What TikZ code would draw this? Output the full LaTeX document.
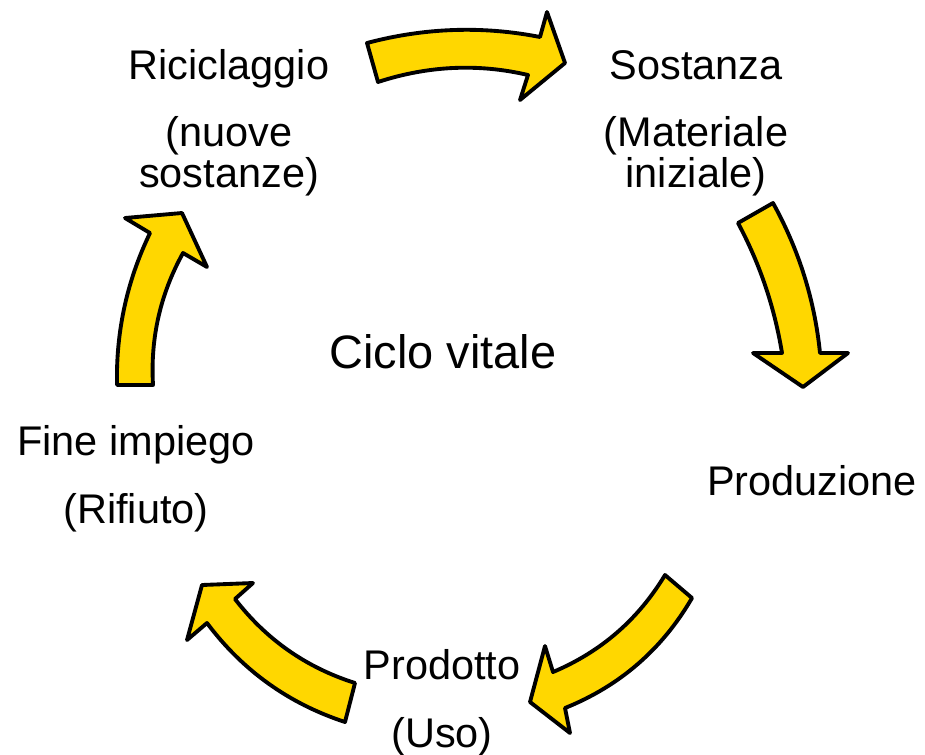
\documentclass[tikz,border=0pt]{standalone}
\usepackage{fontspec}
\setmainfont{Liberation Sans}
\usetikzlibrary{positioning}
\definecolor{cycleyellow}{RGB}{255,215,0}
\tikzstyle{stage} = [inner sep=0pt, align=center, anchor=base, font=\fontsize{23.6pt}{22.8pt}\selectfont]
\tikzstyle{title} = [inner sep=0pt, anchor=base, font=\fontsize{26.7pt}{28pt}\selectfont]
\tikzstyle{blockarrow} = [draw=black, line width=2.2pt, line join=round, fill=cycleyellow]

\begin{document}
\begin{tikzpicture}[x=0.02cm, y=-0.02cm]
    \useasboundingbox (0,0) rectangle (925,754);
    % base anchor sits on the last line
    \node (cycle) [title] at (443,368) {Ciclo vitale};
    \node (recycle) [stage] at (229,187) {Riciclaggio\\[15.4pt](nuove\\sostanze)};
    \node (substance) [stage] at (696,187) {Sostanza\\[15.4pt](Materiale\\iniziale)};
    \node (production) [stage] at (812,495) {Produzione};
    \node (product) [stage] at (442,747) {Prodotto\\[15.4pt](Uso)};
    \node (disposal) [stage] at (136,523) {Fine impiego\\[15.4pt](Rifiuto)};
    % curved block arrows
    \draw [blockarrow] (367,43) .. controls (424.7,27.7) and (482.3,25.7) .. (540,37) -- (547,12) -- (565,63)
        -- (520,100) -- (528,75) .. controls (478,63.3) and (428,65.7) .. (378,82) -- cycle;
    \draw [blockarrow] (773,203) .. controls (798.9,249.8) and (814.6,299.8) .. (820,353) -- (848,353) -- (803,387)
        -- (753,353) -- (782,353) .. controls (774.5,307.3) and (759.9,263.9) .. (738,223) -- cycle;
    \draw [blockarrow] (692,598) .. controls (662.2,649.2) and (619.9,685.9) .. (565,708) -- (570,733) -- (530,702)
        -- (545,646) -- (553,672) .. controls (600.9,651.8) and (638.2,619.5) .. (665,575) -- cycle;
    \draw [blockarrow] (355,683) .. controls (306.2,667.5) and (266.2,639.5) .. (235,599) -- (253,583) -- (202,585)
        -- (187,640) -- (207,623) .. controls (242.6,670.5) and (288.6,703.5) .. (345,722) -- cycle;
    \draw [blockarrow] (153,385) .. controls (150.3,338.1) and (160.3,294.1) .. (183,253) -- (207,267) -- (182,213)
        -- (125,218) -- (150,233) .. controls (126.9,281) and (115.9,331.7) .. (117,385) -- cycle;
\end{tikzpicture}
\end{document}
